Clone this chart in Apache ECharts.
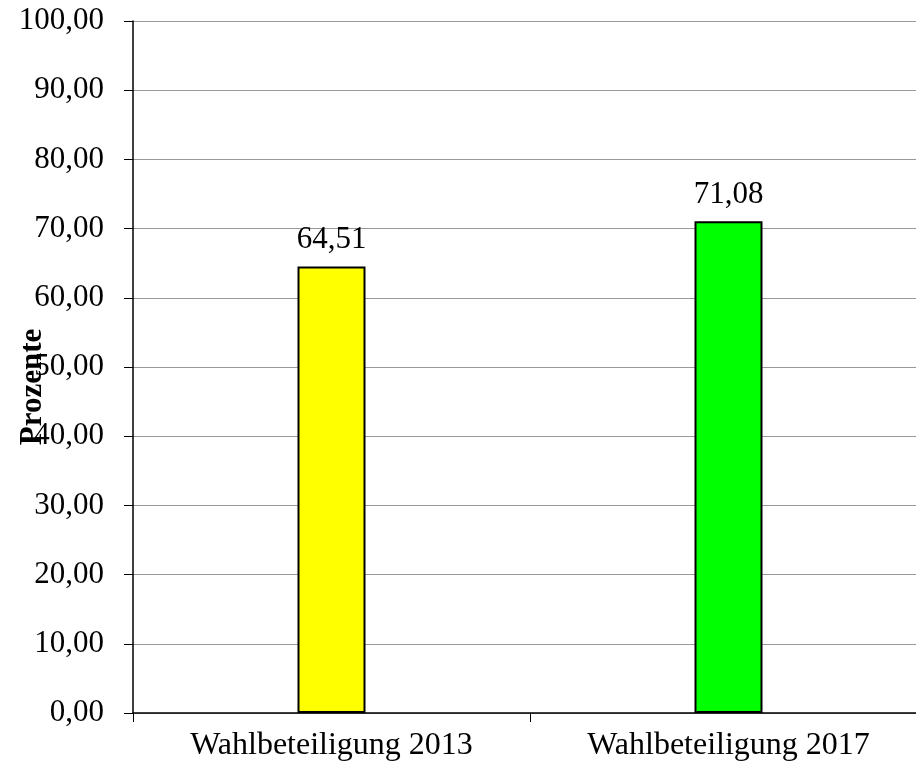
<!DOCTYPE html>
<html>
<head>
<meta charset="utf-8">
<script src="https://cdn.jsdelivr.net/npm/echarts@6/dist/echarts.min.js"></script>
<style>
html,body{margin:0;padding:0;background:#fff;}
#chart{width:916px;height:772px;}
</style>
</head>
<body>
<div id="chart"></div>
<script>
const categories = ["Wahlbeteiligung 2013", "Wahlbeteiligung 2017"];
const turnout = [64.51, 71.08];
const barColors = ["#FFFF00", "#00FF00"];
const yAxisName = "Prozente";

const FONT = '"Liberation Serif", "Times New Roman", serif';
const fmt = v => Number(v).toFixed(2).replace('.', ',');

const chart = echarts.init(document.getElementById('chart'), null, {renderer: 'canvas'});
chart.setOption({
  animation: false,
  backgroundColor: '#ffffff',
  grid: {left: 133, right: -11, top: 21, bottom: 59, containLabel: false, outerBoundsMode: 'none'},
  xAxis: {
    type: 'category',
    data: categories,
    boundaryGap: true,
    axisLine: {show: true, lineStyle: {color: '#000', width: 1.5}},
    axisTick: {show: true, length: 9, lineStyle: {color: '#000', width: 1}},
    axisLabel: {color: '#000', fontFamily: FONT, fontSize: 32, margin: 17, interval: 0},
    splitLine: {show: false}
  },
  yAxis: {
    type: 'value',
    min: 0,
    max: 100,
    interval: 10,
    name: yAxisName,
    nameLocation: 'middle',
    nameRotate: 90,
    nameGap: 85,
    nameMoveOverlap: false,
    nameTextStyle: {color: '#000', fontFamily: FONT, fontSize: 31, fontWeight: 'bold', padding: [0, 40, 0, 0]},
    axisLine: {show: true, lineStyle: {color: '#000', width: 1.5}},
    axisTick: {show: true, length: 9, lineStyle: {color: '#000', width: 1}},
    axisLabel: {color: '#000', fontFamily: FONT, fontSize: 31, margin: 29, formatter: fmt},
    splitLine: {show: true, lineStyle: {color: '#999999', width: 1}}
  },
  series: [{
    type: 'bar',
    data: turnout.map((v, i) => ({value: v, itemStyle: {color: barColors[i]}})),
    barWidth: 68,
    itemStyle: {borderColor: '#000', borderWidth: 2},
    label: {
      show: true,
      position: 'top',
      distance: 11,
      color: '#000',
      fontFamily: FONT,
      fontSize: 31,
      formatter: p => fmt(p.value)
    }
  }]
});
</script>
</body>
</html>
